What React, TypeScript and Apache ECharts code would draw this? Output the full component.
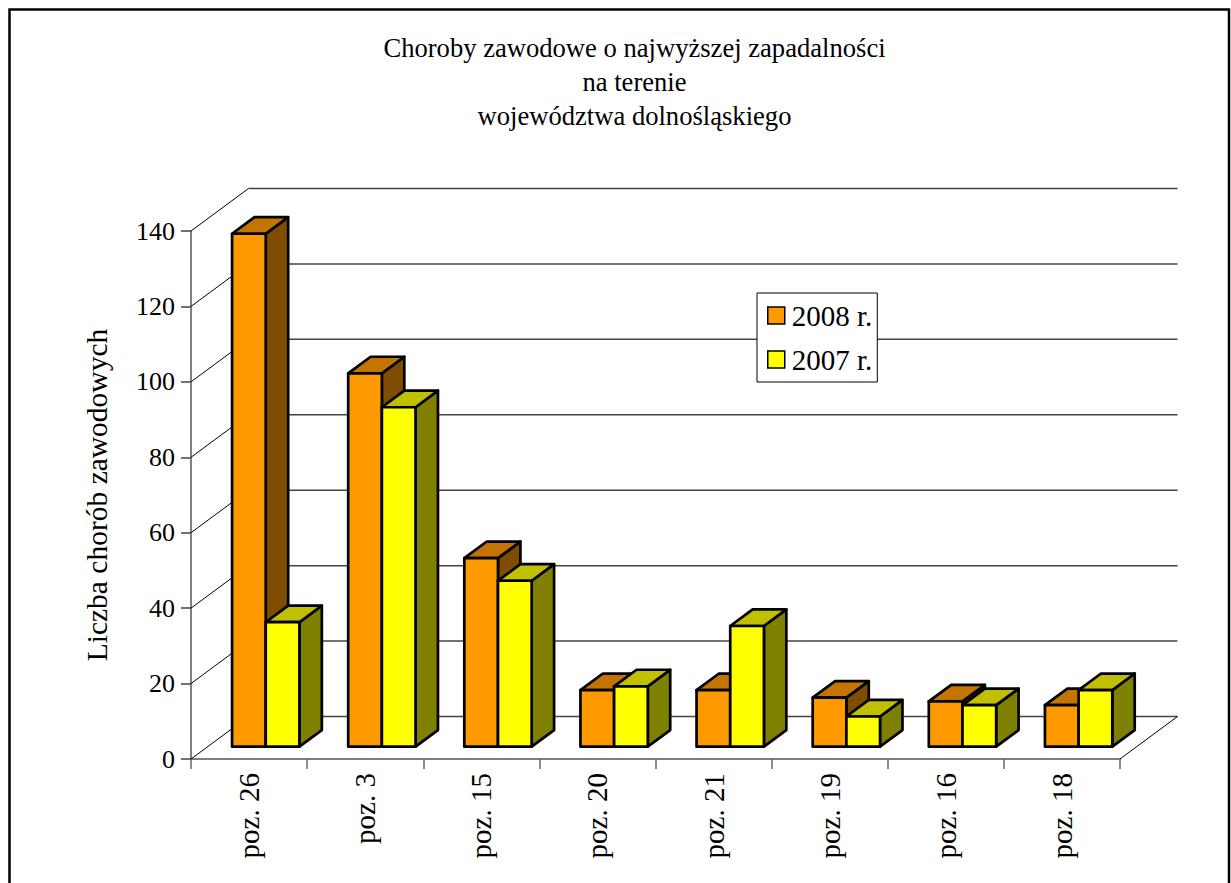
import React, { useEffect, useRef } from "react";
import * as echarts from "echarts";

const categories = ["poz. 26", "poz. 3", "poz. 15", "poz. 20", "poz. 21", "poz. 19", "poz. 16", "poz. 18"];
const values2008 = [136, 99, 50, 15, 15, 13, 12, 11];
const values2007 = [33, 90, 44, 16, 32, 8, 11, 15];
const gridValues = [0, 20, 40, 60, 80, 100, 120, 140];
const titleLines = ["Choroby zawodowe o najwyższej zapadalności", "na terenie", "województwa dolnośląskiego"];
const seriesNames = ["2008 r.", "2007 r."];

const FONT = "Liberation Serif";
const DX = 57.5;
const DY = -42.5;
const FRONT = 0.29;
const DEPTH = 0.39;
const BAR_W = 0.29;

const palettes = [
  { front: "#FF9900", top: "#C47400", side: "#804C00" },
  { front: "#FFFF00", top: "#C0C000", side: "#808000" },
];

function barRenderer(seriesIdx: number) {
  const pal = palettes[seriesIdx];
  return (params: any, api: any) => {
    const i = api.value(0);
    const v = api.value(1);
    const base = api.coord([i, 0]);
    const top = api.coord([i, v]);
    const bw = api.size([1, 0])[0];
    const w = bw * BAR_W;
    const fx = DX * FRONT;
    const fy = DY * FRONT;
    const x0 = base[0] + fx + (seriesIdx === 0 ? -w : 0);
    const x1 = x0 + w;
    const yb = base[1] + fy;
    const yt = top[1] + fy;
    const bx = DX * DEPTH;
    const by = DY * DEPTH;
    const stroke = { stroke: "#000", lineWidth: 2.7, lineJoin: "round" };
    return {
      type: "group",
      children: [
        {
          type: "polygon",
          shape: { points: [[x1, yt], [x1 + bx, yt + by], [x1 + bx, yb + by], [x1, yb]] },
          style: { fill: pal.side, ...stroke },
        },
        {
          type: "polygon",
          shape: { points: [[x0, yt], [x1, yt], [x1 + bx, yt + by], [x0 + bx, yt + by]] },
          style: { fill: pal.top, ...stroke },
        },
        {
          type: "polygon",
          shape: { points: [[x0, yt], [x1, yt], [x1, yb], [x0, yb]] },
          style: { fill: pal.front, ...stroke },
        },
      ],
    };
  };
}

function wallRenderer(params: any, api: any) {
  const v = api.value(1);
  const bw = api.size([1, 0])[0];
  const pL = api.coord([0, v]);
  const pR = api.coord([categories.length - 1, v]);
  const xL = pL[0] - bw / 2;
  const xR = pR[0] + bw / 2;
  const y = pL[1];
  const children: any[] = [
    {
      type: "line",
      shape: { x1: xL, y1: y, x2: xL + DX, y2: y + DY },
      style: { stroke: "#000", lineWidth: 1 },
    },
    {
      type: "line",
      shape: { x1: xL + DX, y1: y + DY, x2: xR + DX, y2: y + DY },
      style: { stroke: "#444", lineWidth: 1.5 },
    },
  ];
  if (v === 0) {
    children.push({
      type: "line",
      shape: { x1: xR, y1: y, x2: xR + DX, y2: y + DY },
      style: { stroke: "#000", lineWidth: 1 },
    });
  }
  return { type: "group", children };
}

export default function App() {
  const ref = useRef<HTMLDivElement>(null);
  useEffect(() => {
    if (!ref.current) return;
    const chart = echarts.init(ref.current, null, { renderer: "svg" });
    chart.setOption({
      animation: false,
      backgroundColor: "#fff",
      textStyle: { fontFamily: FONT },
      graphic: [
        {
          type: "rect",
          shape: { x: 9.5, y: 9.5, width: 1219.5, height: 900 },
          style: { fill: "none", stroke: "#000", lineWidth: 2.5 },
          silent: true,
        },
        {
          type: "text",
          x: 634.5,
          y: 31,
          style: {
            text: titleLines.join("\n"),
            fontFamily: FONT,
            fontSize: 26.6,
            fill: "#000",
            align: "center",
            verticalAlign: "top",
            lineHeight: 34,
          },
        },
      ],
      legend: {
        data: seriesNames,
        orient: "vertical",
        left: 757,
        top: 293,
        backgroundColor: "#fff",
        borderColor: "#000",
        borderWidth: 1,
        padding: [8, 5, 8, 10],
        itemGap: 15,
        itemWidth: 17,
        itemHeight: 17,
        icon: "rect",
        itemStyle: { borderColor: "#000", borderWidth: 1.5 },
        textStyle: { fontSize: 29, color: "#000", fontFamily: FONT, padding: [0, 0, 0, 2] },
      },
      grid: { left: 191, top: 231, width: 929, height: 528, containLabel: false },
      xAxis: {
        type: "category",
        data: categories,
        boundaryGap: true,
        axisLine: { show: true, lineStyle: { color: "#555", width: 1.5 } },
        axisTick: { show: true, interval: 0, length: 10, lineStyle: { color: "#666", width: 1.5 } },
        axisLabel: { rotate: 90, margin: 14, fontSize: 29, color: "#000", fontFamily: FONT, interval: 0 },
        splitLine: { show: false },
      },
      yAxis: {
        type: "value",
        min: 0,
        max: 140,
        interval: 20,
        name: "Liczba chorób zawodowych",
        nameLocation: "middle",
        nameRotate: 90,
        nameGap: 79,
        nameTextStyle: { fontSize: 29.5, color: "#000", fontFamily: FONT },
        axisLine: { show: true, lineStyle: { color: "#808080", width: 2 } },
        axisTick: { show: true, length: 10, lineStyle: { color: "#444", width: 1.5 } },
        axisLabel: { margin: 16, fontSize: 26, color: "#000", fontFamily: FONT },
        splitLine: { show: false },
      },
      series: [
        {
          type: "custom",
          name: "walls",
          renderItem: wallRenderer,
          data: gridValues.map((v) => [0, v]),
          z: 1,
          silent: true,
        },
        {
          type: "custom",
          name: seriesNames[0],
          renderItem: barRenderer(0),
          data: values2008.map((v, i) => [i, v]),
          itemStyle: { color: palettes[0].front },
          z: 2,
        },
        {
          type: "custom",
          name: seriesNames[1],
          renderItem: barRenderer(1),
          data: values2007.map((v, i) => [i, v]),
          itemStyle: { color: palettes[1].front },
          z: 3,
        },
      ],
    });
    return () => chart.dispose();
  }, []);
  return (
    <div
      ref={ref}
      style={{ position: "absolute", left: 0, top: 0, width: 1231, height: 883 }}
    />
  );
}
